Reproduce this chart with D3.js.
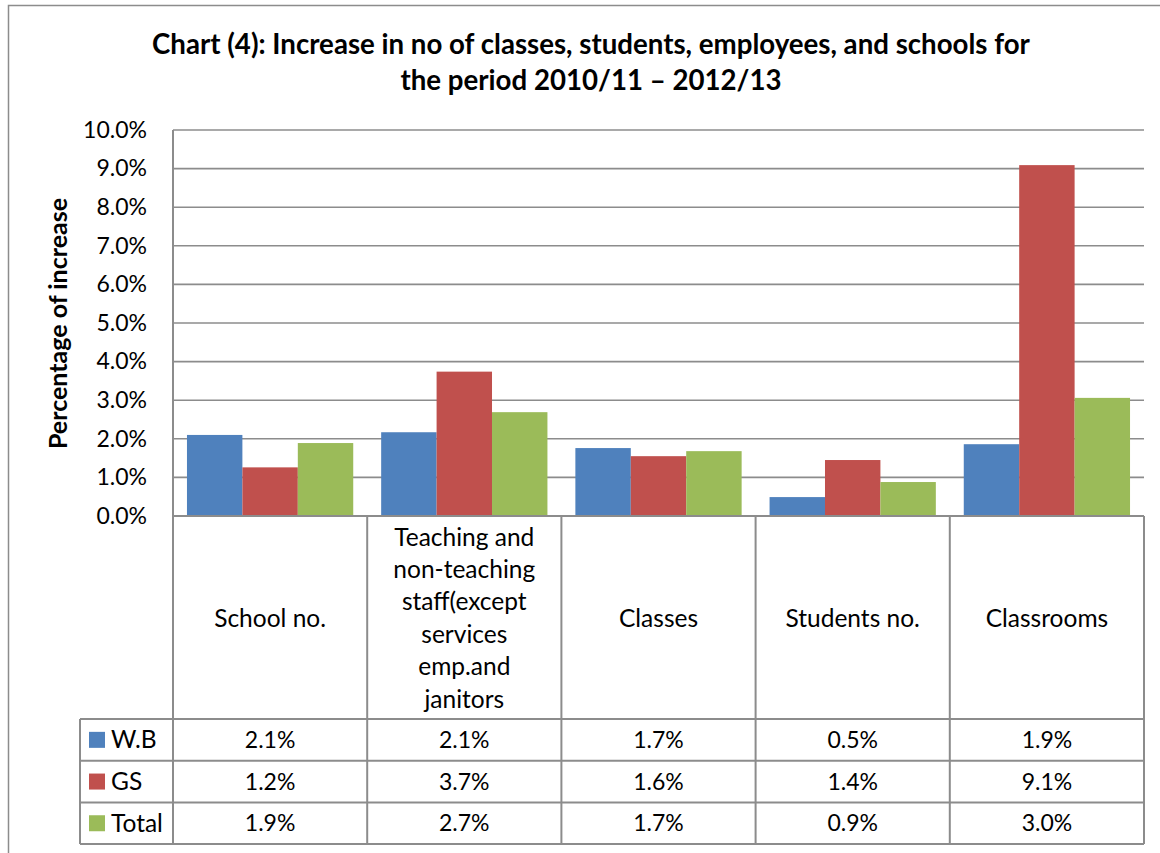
<!DOCTYPE html>
<html>
<head>
<meta charset="utf-8">
<script src="https://cdn.jsdelivr.net/npm/d3@7"></script>
<style>
  html, body { margin: 0; padding: 0; background: #fff; }
  svg { display: block; font-family: Lato, "Open Sans", sans-serif; }
</style>
</head>
<body>
<svg id="chart" width="1160" height="853"></svg>
<script>
// ---- data ----
const categories = [
  ["School no."],
  ["Teaching and", "non-teaching", "staff(except", "services", "emp.and", "janitors"],
  ["Classes"],
  ["Students no."],
  ["Classrooms"]
];
const seriesNames = ["W.B", "GS", "Total"];
const seriesColors = ["#4F81BD", "#C0504D", "#9BBB59"];
const wbValues    = [2.1, 2.17, 1.76, 0.49, 1.86];
const gsValues    = [1.26, 3.74, 1.55, 1.45, 9.09];
const totalValues = [1.89, 2.69, 1.68, 0.88, 3.06];
const wbLabels    = ["2.1%", "2.1%", "1.7%", "0.5%", "1.9%"];
const gsLabels    = ["1.2%", "3.7%", "1.6%", "1.4%", "9.1%"];
const totalLabels = ["1.9%", "2.7%", "1.7%", "0.9%", "3.0%"];
const yTicks = [0, 1, 2, 3, 4, 5, 6, 7, 8, 9, 10];
const titleLines = ["Chart (4): Increase in no of classes, students, employees, and schools for",
                    "the period 2010/11 \u2013 2012/13"];
const yTitle = "Percentage of increase";

const seriesValues = [wbValues, gsValues, totalValues];
const seriesLabels = [wbLabels, gsLabels, totalLabels];

// ---- layout ----
const plotLeft = 173, plotRight = 1144, plotTop = 130, plotBottom = 516;
const headerBottom = 719, rowH = 41.7, legendLeft = 80;
const lineColor = "#8c8c8c";
const letterSize = 24.5, digitSize = 23;

const svg = d3.select("#chart");

// outer frame
svg.append("path")
  .attr("d", "M8.5,860 L8.5,5.5 L1170,5.5")
  .attr("fill", "none").attr("stroke", "#8c8c8c").attr("stroke-width", 1.5);

// title
svg.append("g").selectAll("text").data(titleLines).join("text")
  .attr("x", 591).attr("y", (d, i) => 54 + i * 36)
  .attr("text-anchor", "middle")
  .attr("font-weight", "bold").attr("font-size", 27.65)
  .attr("fill", "#000")
  .text(d => d);

const x = d3.scaleBand().domain(d3.range(categories.length)).range([plotLeft, plotRight]).paddingInner(0).paddingOuter(0);
const y = d3.scaleLinear().domain([0, 10]).range([plotBottom, plotTop]);
const bw = x.bandwidth();
const x1 = d3.scaleBand().domain(d3.range(seriesNames.length)).range([0, bw]).paddingInner(0).paddingOuter(0.252);

// gridlines
svg.append("g").selectAll("line").data(yTicks.filter(t => t > 0)).join("line")
  .attr("x1", plotLeft).attr("x2", plotRight)
  .attr("y1", d => y(d)).attr("y2", d => y(d))
  .attr("stroke", lineColor).attr("stroke-width", 1.6);

// y axis
const yAxis = d3.axisLeft(y).tickValues(yTicks).tickSize(0).tickPadding(26)
  .tickFormat(d => d.toFixed(1) + "%");
const yg = svg.append("g").attr("transform", `translate(${plotLeft},0)`).call(yAxis);
yg.select(".domain").remove();
yg.selectAll("text").attr("font-size", digitSize).attr("font-family", "Lato, sans-serif").attr("fill", "#000");

// y title
svg.append("text")
  .attr("transform", "translate(67,323.5) rotate(-90)")
  .attr("text-anchor", "middle")
  .attr("font-weight", "bold").attr("font-size", 25)
  .text(yTitle);

// bars
const groups = svg.append("g").selectAll("g").data(categories).join("g")
  .attr("transform", (d, i) => `translate(${x(i)},0)`);
groups.selectAll("rect").data((d, i) => seriesValues.map((s, k) => ({ k, v: s[i] }))).join("rect")
  .attr("x", d => x1(d.k)).attr("width", x1.bandwidth())
  .attr("y", d => y(d.v)).attr("height", d => plotBottom - y(d.v))
  .attr("fill", d => seriesColors[d.k]);

// table lines
const tableBottom = headerBottom + rowH * 3;
const tl = svg.append("g").attr("stroke", lineColor).attr("stroke-width", 2).attr("fill", "none");
tl.append("line").attr("x1", plotLeft).attr("x2", plotLeft).attr("y1", plotTop).attr("y2", tableBottom);
d3.range(1, categories.length + 1).forEach(i => {
  const xx = i < categories.length ? x(i) : plotRight;
  tl.append("line").attr("x1", xx).attr("x2", xx).attr("y1", plotBottom).attr("y2", tableBottom);
});
tl.append("line").attr("x1", plotLeft).attr("x2", plotRight).attr("y1", plotBottom).attr("y2", plotBottom);
d3.range(4).forEach(r => {
  const yy = headerBottom + r * rowH;
  tl.append("line").attr("x1", legendLeft).attr("x2", plotRight).attr("y1", yy).attr("y2", yy);
});
tl.append("line").attr("x1", legendLeft).attr("x2", legendLeft).attr("y1", headerBottom).attr("y2", tableBottom);

// category labels
const lineGap = 32.4, headerMid = 618;
groups.each(function (lines) {
  const g = d3.select(this);
  const n = lines.length;
  g.selectAll("text").data(lines).join("text")
    .attr("x", bw / 2)
    .attr("y", (d, j) => headerMid + (j - (n - 1) / 2) * lineGap)
    .attr("dy", "0.35em")
    .attr("text-anchor", "middle")
    .attr("font-size", letterSize)
    .text(d => d);
});

// table values and legend
seriesNames.forEach((name, k) => {
  const cy = headerBottom + rowH * k + rowH / 2;
  svg.append("rect").attr("x", 89).attr("y", cy - 8).attr("width", 16).attr("height", 16).attr("fill", seriesColors[k]);
  svg.append("text").attr("x", 111).attr("y", cy).attr("dy", "0.35em").attr("font-size", letterSize).text(name);
  categories.forEach((c, i) => {
    svg.append("text").attr("x", x(i) + bw / 2).attr("y", cy).attr("dy", "0.35em")
      .attr("text-anchor", "middle").attr("font-size", digitSize).text(seriesLabels[k][i]);
  });
});
</script>
</body>
</html>
